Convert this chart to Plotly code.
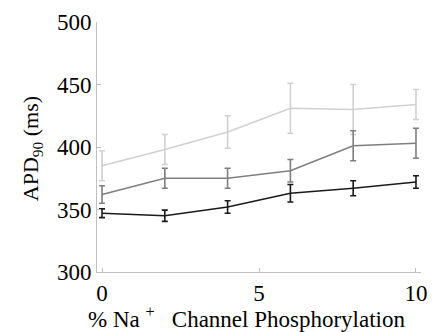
import plotly.graph_objects as go

x_vals = [0, 2, 4, 6, 8, 10]
light_y = [385, 398, 412, 431, 430, 434]
light_err = [12, 12, 13, 20, 20, 12]
mid_y = [362, 375, 375, 381, 401, 403]
mid_err = [7, 8, 8, 9, 12, 12]
dark_y = [347, 345, 352, 363, 367, 372]
dark_err = [3.5, 4.5, 5, 7, 6, 5]

series = [
    (light_y, light_err, "#d0d0d0"),
    (mid_y, mid_err, "#7f7f7f"),
    (dark_y, dark_err, "#1a1a1a"),
]

fig = go.Figure()
for ys, es, col in series:
    fig.add_trace(go.Scatter(
        x=x_vals, y=ys, mode="lines",
        line=dict(color=col, width=1.6),
        error_y=dict(type="data", array=es, visible=True, color=col, thickness=1.6, width=3),
        showlegend=False,
    ))

font_family = "Liberation Serif, Times New Roman, serif"
fig.update_layout(
    width=437, height=332,
    margin=dict(l=97, r=10, t=16, b=60),
    paper_bgcolor="white", plot_bgcolor="white",
    font=dict(family=font_family, color="black", size=22),
    xaxis=dict(
        range=[-0.16, 10.16], tickvals=[0, 5, 10], ticktext=["0", "5", "10"],
        showline=True, linecolor="#c0c0c0", linewidth=1, showgrid=False, zeroline=False,
        ticks="inside", ticklen=4, tickcolor="#c0c0c0",
        tickfont=dict(size=23, family=font_family),
    ),
    yaxis=dict(
        range=[300, 500], tickvals=[300, 350, 400, 450, 500],
        showline=True, linecolor="#c0c0c0", linewidth=1, showgrid=False, zeroline=False,
        ticks="inside", ticklen=4, tickcolor="#c0c0c0",
        tickfont=dict(size=23, family=font_family),
    ),
    annotations=[
        dict(
            text="APD<sub>90</sub> (ms)", textangle=-90, showarrow=False,
            xref="paper", yref="paper", x=-0.2, y=0.492, xanchor="center", yanchor="middle",
            font=dict(size=22, family=font_family, color="black"),
        ),
        dict(
            text="% Na&nbsp;<sup>+</sup>&nbsp;&nbsp;&nbsp;Channel Phosphorylation", showarrow=False,
            xref="paper", yref="paper", x=0.46, y=-0.18, xanchor="center", yanchor="middle",
            font=dict(size=23, family=font_family, color="black"),
        ),
    ],
)

fig.write_html("out.html", config={"displayModeBar": False},
               post_script="document.body.style.margin='0';")
